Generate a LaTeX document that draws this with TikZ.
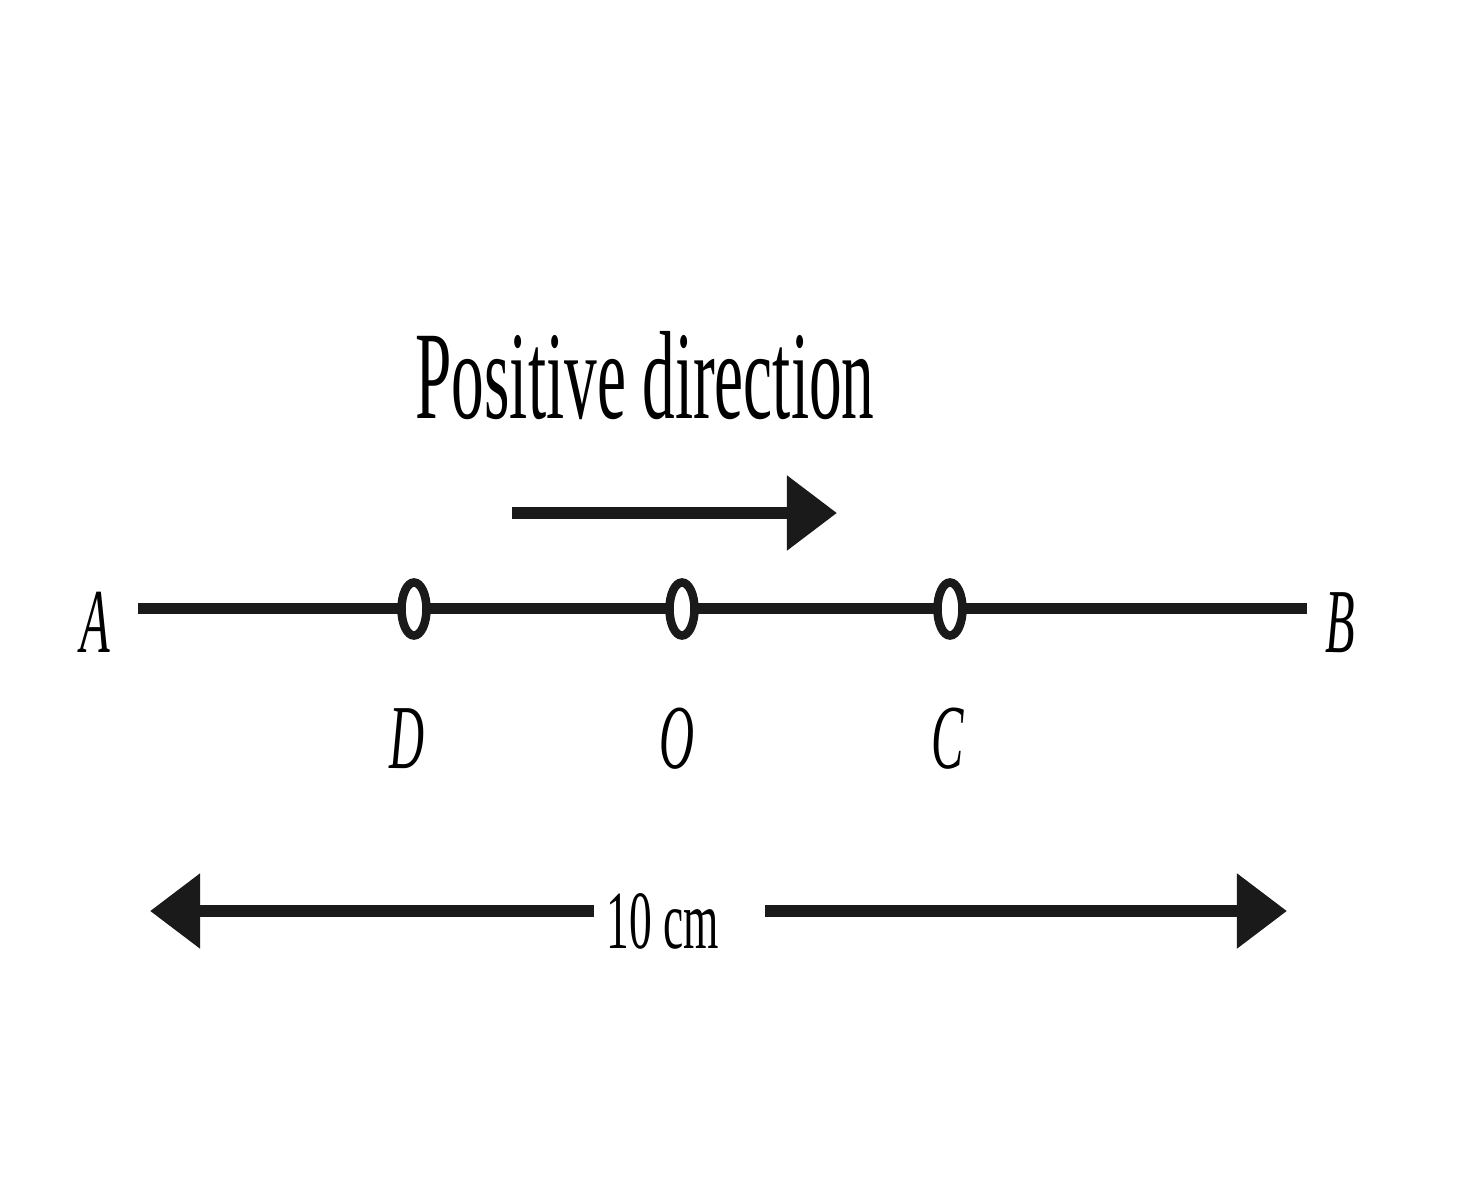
\documentclass[tikz,border=0pt]{standalone}
\usepackage{fontspec}
\setmainfont{Liberation Serif}
\usetikzlibrary{arrows.meta,shapes.geometric}
\definecolor{ink}{HTML}{1A1A1A}

\begin{document}
\begin{tikzpicture}[x=0.01cm,y=-0.01cm]
\tikzstyle{every node}+=[inner sep=0pt]
\tikzstyle{pt}=[ellipse,draw=ink,fill=white,line width=0.085cm,minimum width=0.25cm,minimum height=0.53cm]
\tikzstyle{lbl}=[xscale=0.53,anchor=base,font=\fontsize{26}{30}\selectfont\itshape]
\tikzstyle{bigarrow}=[ink,line width=0.12cm,-{Triangle[length=0.5cm,width=0.72cm]}]
\useasboundingbox (0,0) rectangle (1472,1200);
% title and its arrow
\node [anchor=base,xscale=0.52,font=\fontsize{35.7}{40}\selectfont] (title) at (645,418) {Positive direction};
\coordinate (pstart) at (512,513);
\coordinate (pend) at (837,513);
\draw [bigarrow] (pstart) -- (pend);
% the line AB
\coordinate (lineA) at (138,608);
\coordinate (lineB) at (1307,608);
\draw [ink,line width=0.11cm] (lineA) -- (lineB);
\node [lbl] (labA) at (95,652) {A};
\node [lbl] (labB) at (1340,652) {B};
\node [pt] (D) at (414,609) {};
\node [pt] (O) at (682,609) {};
\node [pt] (C) at (950,609) {};
\node [lbl] (labD) at (407,768) {D};
\node [lbl] (labO) at (677,768) {O};
\node [lbl] (labC) at (948,768) {C};
% the 10 cm dimension
\node [anchor=base,xscale=0.55,font=\fontsize{23.5}{28}\selectfont] (len) at (663,948) {10 cm};
\coordinate (lenLs) at (594,911);
\coordinate (lenL) at (150,911);
\coordinate (lenRs) at (765,911);
\coordinate (lenR) at (1287,911);
\draw [bigarrow] (lenLs) -- (lenL);
\draw [bigarrow] (lenRs) -- (lenR);
\end{tikzpicture}
\end{document}
